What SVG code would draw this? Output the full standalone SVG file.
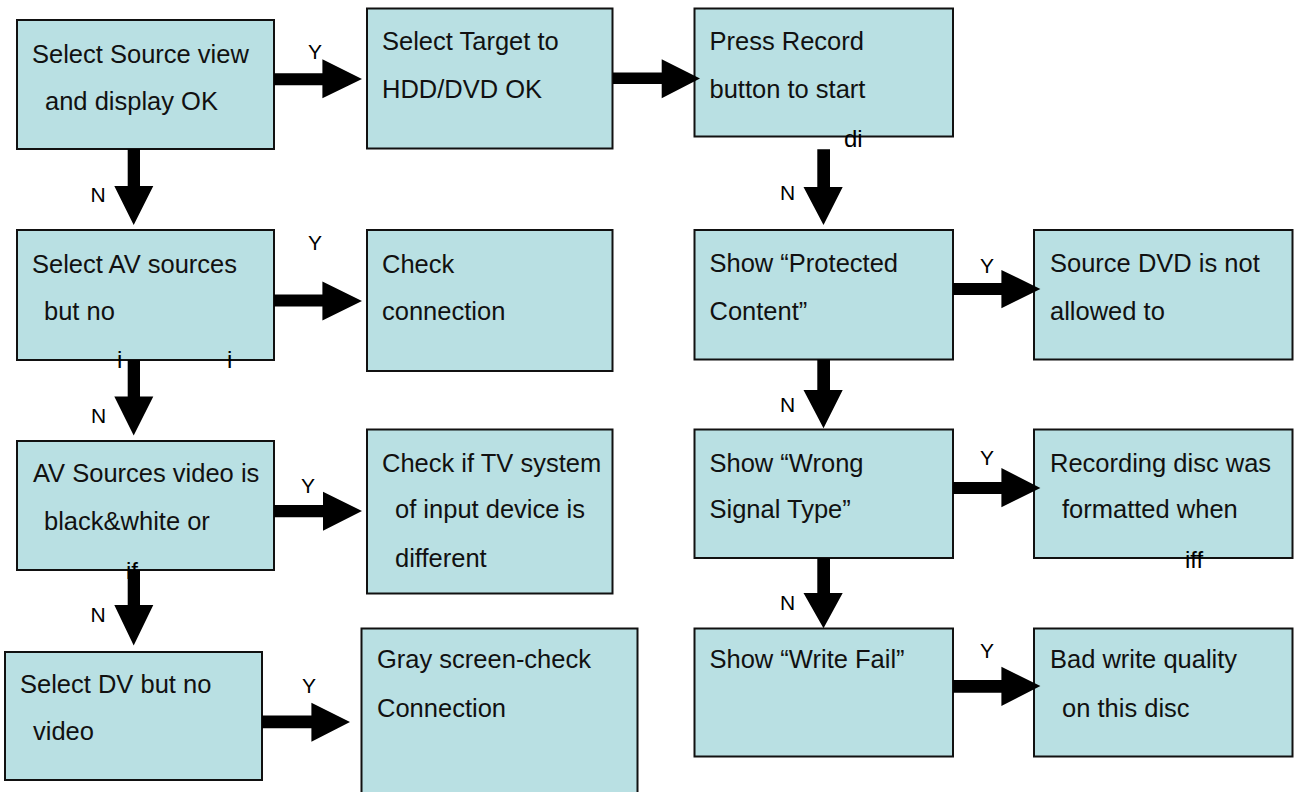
<svg xmlns="http://www.w3.org/2000/svg" width="1294" height="792" viewBox="0 0 1294 792">
<style>
.box{fill:#B9E0E3;stroke:#111;stroke-width:2}
.t{font-family:"Liberation Sans",Arial,sans-serif;font-size:25.5px;fill:#111}
.lbl{font-family:"Liberation Sans",Arial,sans-serif;font-size:21px;fill:#000}
.frag{font-family:"Liberation Sans",Arial,sans-serif;font-size:24px;fill:#000}
.arr{fill:#000}
</style>
<rect width="1294" height="792" fill="#fff"/>
<g id="n1"><rect class="box" x="17" y="20" width="257" height="129"/><text class="t" x="32" y="63">Select Source view</text><text class="t" x="45" y="110">and display OK</text></g>
<g id="n2"><rect class="box" x="17" y="230" width="257" height="130"/><text class="t" x="32" y="273">Select AV sources</text><text class="t" x="44" y="320">but no</text></g>
<g id="n3"><rect class="box" x="17" y="441" width="257" height="129"/><text class="t" x="33" y="482">AV Sources video is</text><text class="t" x="44" y="530">black&amp;white or</text></g>
<g id="n4"><rect class="box" x="5" y="652" width="257" height="128"/><text class="t" x="20" y="693">Select DV but no</text><text class="t" x="33" y="740">video</text></g>
<g id="n5"><rect class="box" x="367" y="8.5" width="245.5" height="140"/><text class="t" x="382" y="50">Select Target to</text><text class="t" x="382" y="98">HDD/DVD OK</text></g>
<g id="n6"><rect class="box" x="367" y="230" width="245.5" height="141"/><text class="t" x="382" y="273">Check</text><text class="t" x="382" y="320">connection</text></g>
<g id="n7"><rect class="box" x="367" y="429.5" width="245.5" height="164"/><text class="t" x="382" y="472">Check if TV system</text><text class="t" x="395" y="518">of input device is</text><text class="t" x="395" y="567">different</text></g>
<g id="n8"><rect class="box" x="361.5" y="628.5" width="276" height="180"/><text class="t" x="377" y="668">Gray screen-check</text><text class="t" x="377" y="717">Connection</text></g>
<g id="n9"><rect class="box" x="694.5" y="8.5" width="258.5" height="128"/><text class="t" x="709.5" y="50">Press Record</text><text class="t" x="709.5" y="98">button to start</text></g>
<g id="n10"><rect class="box" x="694.5" y="230" width="258.5" height="129.5"/><text class="t" x="709.5" y="272">Show “Protected</text><text class="t" x="709.5" y="320">Content”</text></g>
<g id="n11"><rect class="box" x="694.5" y="429.5" width="258.5" height="128.5"/><text class="t" x="709.5" y="472">Show “Wrong</text><text class="t" x="709.5" y="518">Signal Type”</text></g>
<g id="n12"><rect class="box" x="694.5" y="628.5" width="258.5" height="128"/><text class="t" x="709.5" y="668">Show “Write Fail”</text></g>
<g id="n13"><rect class="box" x="1034" y="230" width="258.5" height="129.5"/><text class="t" x="1050" y="272">Source DVD is not</text><text class="t" x="1050" y="320">allowed to</text></g>
<g id="n14"><rect class="box" x="1034" y="429.5" width="258.5" height="128.5"/><text class="t" x="1050" y="472">Recording disc was</text><text class="t" x="1062" y="518">formatted when</text></g>
<g id="n15"><rect class="box" x="1034" y="628.5" width="258.5" height="128"/><text class="t" x="1050" y="668">Bad write quality</text><text class="t" x="1062" y="717">on this disc</text></g>
<g id="fragments">
<text class="frag" x="844" y="147">di</text>
<text class="frag" x="117" y="368">i</text>
<text class="frag" x="227" y="368">i</text>
<text class="frag" x="126" y="579">if</text>
<text class="frag" x="1185" y="568">iff</text>
</g>
<g id="connectors">
<polygon class="arr" points="274,73.3 322.4,73.3 322.4,59.3 362,79 322.4,98.3 322.4,85.3 274,85.3"/>
<polygon class="arr" points="613,72.5 661.7,72.5 661.7,59.3 700,78.5 661.7,98.3 661.7,84 613,84"/>
<polygon class="arr" points="274,294.5 322.4,294.5 322.4,281.5 362,301 322.4,320.5 322.4,306.5 274,306.5"/>
<polygon class="arr" points="274,505 323,505 323,491.7 362,511 323,530.7 323,517.3 274,517.3"/>
<polygon class="arr" points="262,715.5 311.4,715.5 311.4,702.7 350,722 311.4,741.7 311.4,728.3 262,728.3"/>
<polygon class="arr" points="953,283 1001.4,283 1001.4,270 1040.4,289 1001.4,308.3 1001.4,295 953,295"/>
<polygon class="arr" points="953,482 1001.4,482 1001.4,468 1040.4,488 1001.4,507.3 1001.4,494 953,494"/>
<polygon class="arr" points="953,680 1001.4,680 1001.4,666.7 1040.4,686 1001.4,706 1001.4,692.7 953,692.7"/>
<polygon class="arr" points="127.7,149 140,149 140,186 153.3,186 133.7,225 114.3,186 127.7,186"/>
<polygon class="arr" points="127.7,360 140,360 140,396.5 153.3,396.5 133.7,435.5 114.3,396.5 127.7,396.5"/>
<polygon class="arr" points="127.7,570 140,570 140,605 153.3,605 133.7,645.5 114.3,605 127.7,605"/>
<polygon class="arr" points="817.3,149.3 830,149.3 830,187 842.7,187 823.5,225 803.5,187 817.3,187"/>
<polygon class="arr" points="817.3,359.5 830,359.5 830,390 842.7,390 823.5,428.3 803.5,390 817.3,390"/>
<polygon class="arr" points="817.3,558 830,558 830,593 842.7,593 823.5,628.3 803.5,593 817.3,593"/>
<text class="lbl" x="308" y="59">Y</text>
<text class="lbl" x="308" y="250">Y</text>
<text class="lbl" x="301" y="493">Y</text>
<text class="lbl" x="302" y="692.5">Y</text>
<text class="lbl" x="980" y="273">Y</text>
<text class="lbl" x="980" y="465">Y</text>
<text class="lbl" x="980" y="658">Y</text>
<text class="lbl" x="90.5" y="202">N</text>
<text class="lbl" x="91" y="423">N</text>
<text class="lbl" x="90.5" y="621.5">N</text>
<text class="lbl" x="780" y="200">N</text>
<text class="lbl" x="780" y="411.5">N</text>
<text class="lbl" x="780" y="610">N</text>
</g>
</svg>
